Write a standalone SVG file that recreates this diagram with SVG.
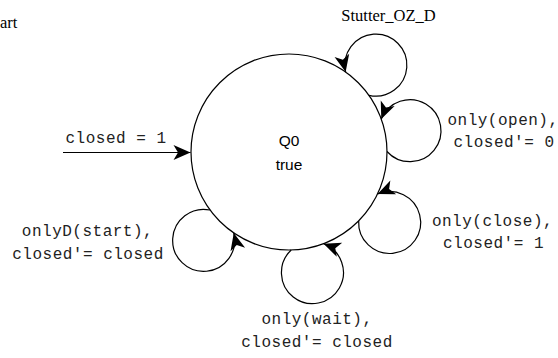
<svg xmlns="http://www.w3.org/2000/svg" width="558" height="358" viewBox="0 0 558 358">
  <style>
    .state { fill: #fff; stroke: #000; stroke-width: 1.2; }
    .edge { fill: none; stroke: #000; stroke-width: 1.2; }
    .name { font-family: "Liberation Sans", Arial, sans-serif; font-size: 15.5px; fill: #000; text-anchor: middle; }
    .serif { font-family: "Liberation Serif", "Times New Roman", serif; font-size: 16.5px; fill: #000; }
    .lbl { font-family: "Liberation Mono", "Courier New", monospace; font-size: 16px; letter-spacing: 0.5px; fill: #222; text-anchor: middle; }
  </style>
  <defs>
    <marker id="arrow" markerUnits="userSpaceOnUse" markerWidth="19" markerHeight="18" viewBox="-18 -9 19 18" refX="0" refY="0" orient="auto">
      <path d="M0,0 L-17,-7.5 L-12.5,0 L-17,7.5 Z" fill="#000"/>
    </marker>
  </defs>

  <rect width="558" height="358" fill="#fff"/>

  <text class="serif" x="0" y="28">art</text>

  <!-- state Q0 -->
  <g id="Q0">
    <circle class="state" cx="289" cy="152" r="98"/>
    <text class="name" x="289" y="146">Q0</text>
    <text class="name" x="289" y="170">true</text>
  </g>

  <!-- transitions -->
  <g id="edges">
    <!-- initial -->
    <path class="edge" d="M63,152.5 L190.5,152.5" marker-end="url(#arrow)"/>
    <!-- self loops around Q0 -->
    <path class="edge" d="M368.98,95.36 A31,31 0 1 0 345.64,72.02" marker-end="url(#arrow)"/>
    <path class="edge" d="M386.99,151.48 A31,31 0 1 0 381.27,118.98" marker-end="url(#arrow)"/>
    <path class="edge" d="M358.67,220.93 A31,31 0 1 0 377.59,193.89" marker-end="url(#arrow)"/>
    <path class="edge" d="M291.23,249.97 A31,31 0 1 0 323.63,243.67" marker-end="url(#arrow)"/>
    <path class="edge" d="M210.02,210.02 A31,31 0 1 0 233.76,232.94" marker-end="url(#arrow)"/>
  </g>

  <!-- transition labels -->
  <g id="labels">
    <text class="lbl" x="116" y="143">closed = 1</text>
    <text class="serif" x="388.5" y="21" text-anchor="middle">Stutter_OZ_D</text>
    <text class="lbl" x="503" y="125">only(open),</text>
    <text class="lbl" x="504" y="147">closed'= 0</text>
    <text class="lbl" x="492.5" y="226">only(close),</text>
    <text class="lbl" x="493.5" y="248">closed'= 1</text>
    <text class="lbl" x="317" y="324">only(wait),</text>
    <text class="lbl" x="317" y="347">closed'= closed</text>
    <text class="lbl" x="87.5" y="236">onlyD(start),</text>
    <text class="lbl" x="88" y="259">closed'= closed</text>
  </g>
</svg>
